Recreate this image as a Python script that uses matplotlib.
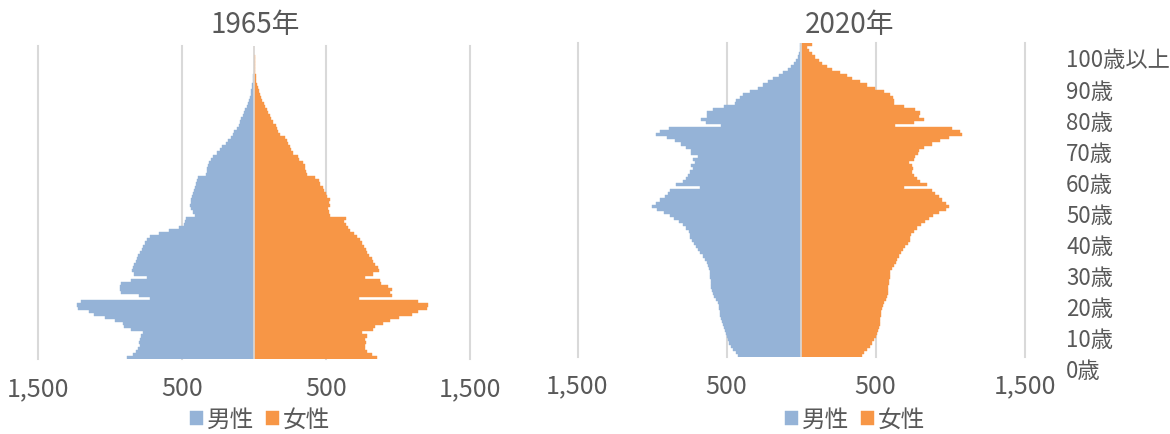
import matplotlib
matplotlib.use('Agg')
import matplotlib.pyplot as plt

# ---------------- data (thousands of persons) ----------------
ages = list(range(101))

male_1965 = [882, 845, 822, 810, 795, 801, 794, 785, 771, 856,
             905, 910, 970, 1035, 1115, 1148, 1222, 1229, 1205, 725,
             800, 925, 930, 935, 925, 855, 748, 835, 850, 845,
             835, 825, 815, 808, 795, 780, 770, 760, 745, 725,
             660, 590, 520, 490, 480, 472, 415, 425, 440, 447,
             440, 442, 430, 425, 420, 415, 408, 400, 389, 332,
             330, 328, 325, 318, 300, 290, 260, 240, 222, 200,
             180, 165, 148, 140, 118, 108, 100, 90, 80, 70,
             62, 54, 45, 40, 32, 26, 22, 17, 13, 11,
             8, 6, 5, 4, 3, 2, 2, 1, 1, 1, 1]

female_1965 = [854, 815, 780, 770, 769, 775, 769, 785, 745, 826,
               840, 896, 942, 1007, 1093, 1139, 1197, 1208, 1139, 727,
               954, 945, 954, 931, 880, 873, 769, 826, 868, 861,
               840, 822, 815, 795, 780, 775, 762, 745, 734, 710,
               690, 668, 653, 635, 625, 640, 526, 521, 515, 525,
               521, 528, 505, 500, 482, 476, 455, 448, 421, 363,
               360, 352, 350, 340, 313, 300, 271, 255, 245, 232,
               228, 213, 180, 167, 160, 150, 132, 118, 109, 95,
               88, 74, 65, 56, 45, 38, 32, 25, 20, 15,
               12, 9, 7, 5, 4, 3, 2, 2, 1, 1, 1]

male_2020 = [423, 438, 455, 468, 480, 490, 496, 502, 510, 516,
             522, 528, 540, 545, 546, 549, 552, 560, 570, 582,
             590, 596, 601, 603, 605, 608, 610, 612, 618, 624,
             632, 645, 660, 678, 690, 702, 718, 732, 742, 748,
             755, 775, 795, 820, 850, 880, 920, 965, 998, 975,
             948, 915, 892, 881, 679, 836, 791, 769, 758, 747,
             724, 735, 713, 724, 691, 735, 735, 769, 803, 848,
             899, 971, 948, 886, 534, 640, 668, 630, 630, 590,
             516, 440, 433, 410, 388, 339, 287, 258, 220, 186,
             148, 119, 90, 65, 45, 32, 22, 15, 10, 7, 10]

female_2020 = [408, 425, 446, 462, 475, 490, 500, 508, 515, 522,
               527, 528, 531, 535, 535, 543, 550, 560, 568, 576,
               582, 585, 587, 590, 592, 594, 596, 598, 610, 625,
               635, 643, 655, 670, 682, 700, 715, 729, 733, 740,
               760, 780, 805, 834, 860, 885, 924, 970, 990, 975,
               946, 924, 901, 879, 688, 845, 800, 778, 756, 744,
               751, 744, 722, 756, 767, 782, 789, 823, 879, 935,
               991, 1081, 1070, 1013, 632, 760, 823, 789, 800, 767,
               688, 621, 621, 615, 600, 554, 498, 442, 397, 341,
               307, 262, 206, 173, 140, 118, 94, 72, 55, 40, 72]

titles = ['1965年', '2020年']
series_labels = ['男性', '女性']
xticks = [-1500, -500, 500, 1500]
xtick_labels = ['1,500', '500', '500', '1,500']
age_ticks = list(range(0, 101, 10))
age_labels = ['0歳', '10歳', '20歳', '30歳', '40歳', '50歳',
              '60歳', '70歳', '80歳', '90歳', '100歳以上']

# ---------------- style ----------------
BLUE = '#95B3D7'
ORANGE = '#F79646'
GRID = '#D9D9D9'
TXT = '#595959'
plt.rcParams['font.family'] = ['Liberation Sans Narrow', 'Noto Sans CJK JP', 'DejaVu Sans']

W, H = 1170, 434
fig = plt.figure(figsize=(W / 100, H / 100), dpi=100)


def rect(left, right, top, bottom):
    return [left / W, 1 - bottom / H, (right - left) / W, (bottom - top) / H]


ax1 = fig.add_axes(rect(38.3, 470.3, 46, 359.3))
ax2 = fig.add_axes(rect(577.5, 1024.5, 43, 357))


def draw(ax, male, female):
    hm = ax.barh(ages, [-v for v in male], height=1.0, color=BLUE,
                 edgecolor=BLUE, linewidth=0.3, zorder=2, label=series_labels[0])
    hf = ax.barh(ages, female, height=1.0, color=ORANGE,
                 edgecolor=ORANGE, linewidth=0.3, zorder=2, label=series_labels[1])
    ax.set_xlim(-1500, 1500)
    ax.set_ylim(-0.5, 100.5)
    ax.set_xticks(xticks)
    ax.set_xticklabels(xtick_labels)
    ax.set_yticks([])
    ax.grid(axis='x', color=GRID, linewidth=1.5)
    for gl in ax.get_xgridlines():
        gl.set_clip_on(False)
    ax.set_axisbelow(True)
    ax.axvline(0, color=GRID, linewidth=1.2, zorder=3)
    for s in ax.spines.values():
        s.set_visible(False)
    ax.tick_params(axis='x', length=0, pad=12, labelsize=18, labelcolor=TXT)
    return hm, hf


h1 = draw(ax1, male_1965, female_1965)
h2 = draw(ax2, male_2020, female_2020)

# age labels (right side of the 2020 chart, shifted slightly downward as in the reference)
top_px, bot_px = 30, 380
k_bot = (369.5 - bot_px) / 3.11
k_top = (369.5 - top_px) / 3.11
ax3 = fig.add_axes(rect(577.5, 1024.5, top_px, bot_px))
ax3.set_ylim(k_bot, k_top)
ax3.set_xlim(0, 1)
ax3.patch.set_visible(False)
for s in ax3.spines.values():
    s.set_visible(False)
ax3.set_xticks([])
ax3.yaxis.tick_right()
ax3.set_yticks(age_ticks)
ax3.set_yticklabels(age_labels)
ax3.tick_params(axis='y', length=0, pad=30, labelsize=16, labelcolor=TXT)

# titles
fig.text(255 / W, 1 - 25 / H, titles[0], ha='center', va='center', fontsize=20, color=TXT)
fig.text(850 / W, 1 - 25 / H, titles[1], ha='center', va='center', fontsize=20, color=TXT)

# legends
for ax, hs, cx in ((ax1, h1, 260), (ax2, h2, 855)):
    leg = ax.legend(hs, series_labels, loc='center', ncol=2,
                    bbox_to_anchor=(cx / W, 1 - 420 / H), bbox_transform=fig.transFigure,
                    frameon=False, fontsize=17, handlelength=0.55, handleheight=0.55,
                    handletextpad=0.15, columnspacing=0.5, borderpad=0)
    for t in leg.get_texts():
        t.set_color(TXT)

fig.savefig('out.png', dpi=100)
